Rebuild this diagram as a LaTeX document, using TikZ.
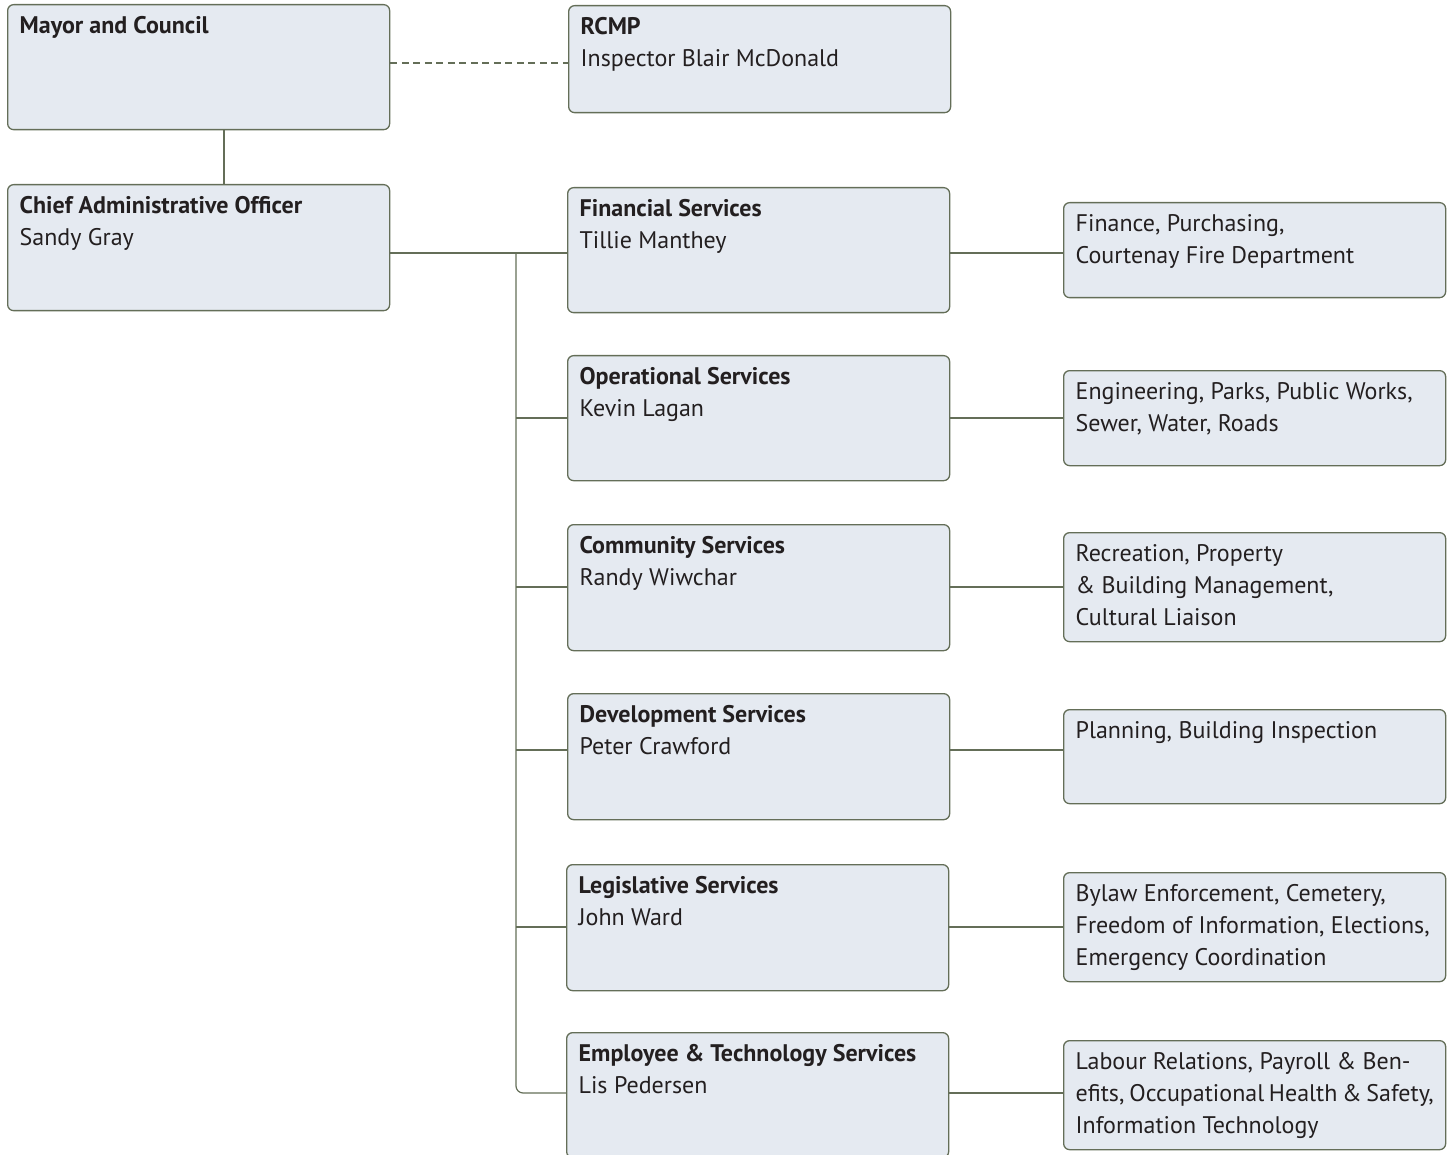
\documentclass[tikz,border=0pt]{standalone}
\usepackage{fontspec}
\setmainfont{PT Sans}
\usepackage{xcolor}
\usetikzlibrary{positioning, calc}

\definecolor{boxfill}{HTML}{E5EAF1}
\definecolor{boxline}{HTML}{646E58}
\definecolor{inkc}{HTML}{231F20}
% top-aligned text inside a box of fixed height
\newcommand{\unittext}[2]{\parbox[c][#1][t]{358pt}{\strut #2}}

\begin{document}
\begin{tikzpicture}[x=1pt, y=-1pt,
    unit/.style={draw=boxline, fill=boxfill, line width=1.3pt, rounded corners=6pt,
        anchor=north west, inner xsep=12pt, inner ysep=6.6pt, text=inkc,
        font=\fontsize{24}{32}\selectfont},
    link/.style={draw=boxline, line width=1.2pt}]
\useasboundingbox (0,0) rectangle (1453,1155);

% Council and CAO
\node[unit] (mayor) at (7,4) {\unittext{111.8pt}{\textbf{Mayor and Council}}};
\node[unit] (rcmp) at (568,5) {\unittext{93.8pt}{\textbf{RCMP}\\Inspector Blair McDonald}};
\node[unit] (cao) at (7,184) {\unittext{112.8pt}{\textbf{Chief Administrative Officer}\\Sandy Gray}};

% Departments
\node[unit] (fin) at (567,187) {\unittext{111.8pt}{\textbf{Financial Services}\\Tillie Manthey}};
\node[unit] (ops) at (567,355) {\unittext{111.8pt}{\textbf{Operational Services}\\Kevin Lagan}};
\node[unit] (com) at (567,524) {\unittext{112.8pt}{\textbf{Community Services}\\Randy Wiwchar}};
\node[unit] (dev) at (567,693) {\unittext{112.8pt}{\textbf{Development Services}\\Peter Crawford}};
\node[unit] (leg) at (566,864) {\unittext{112.8pt}{\textbf{Legislative Services}\\John Ward}};
\node[unit] (emp) at (566,1032) {\unittext{111.8pt}{\textbf{Employee \& Technology Services}\\Lis Pedersen}};

% Divisions
\node[unit] (finx) at (1063,202) {\unittext{81.8pt}{Finance, Purchasing,\\Courtenay Fire Department}};
\node[unit] (opsx) at (1063,370) {\unittext{81.8pt}{Engineering, Parks, Public Works,\\Sewer, Water, Roads}};
\node[unit] (comx) at (1063,532) {\unittext{95.8pt}{Recreation, Property\\\& Building Management,\\Cultural Liaison}};
\node[unit] (devx) at (1063,709) {\unittext{80.8pt}{Planning, Building Inspection}};
\node[unit] (legx) at (1063,872) {\unittext{95.8pt}{Bylaw Enforcement, Cemetery,\\Freedom of Information, Elections,\\Emergency Coordination}};
\node[unit] (empx) at (1063,1040) {\unittext{95.8pt}{Labour Relations, Payroll \& Ben-\\efits, Occupational Health \& Safety,\\Information Technology}};

% junctions on the trunk
\coordinate (dashy) at (0,63);
\coordinate (stem) at (224,0);
\coordinate (j1) at (516,253);
\coordinate (j2) at (516,418);
\coordinate (j3) at (516,587);
\coordinate (j4) at (516,750);
\coordinate (j5) at (516,927);
\coordinate (j6) at (516,1093);

% Connectors
\draw[link, dash pattern=on 7pt off 4.5pt] (mayor.east |- dashy) -- (rcmp.west |- dashy);
\draw[link] (mayor.south -| stem) -- (cao.north -| stem);
\draw[link] (cao.east |- j1) -- (fin.west |- j1);
\draw[link, rounded corners=7pt] (j1) -- (j6) -- (emp.west |- j6);
\foreach \j/\b in {j2/ops, j3/com, j4/dev, j5/leg}
    \draw[link] (\j) -- (\b.west |- \j);
\foreach \a/\j in {fin/j1, ops/j2, com/j3, dev/j4, leg/j5, emp/j6}
    \draw[link] (\a.east |- \j) -- (\a x.west |- \j);
\end{tikzpicture}
\end{document}
